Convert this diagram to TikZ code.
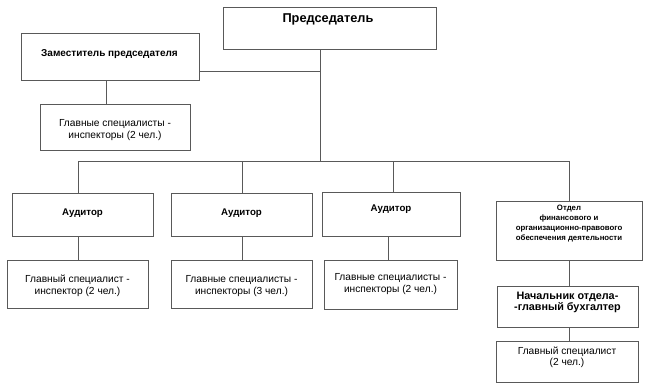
\documentclass[tikz,border=0pt]{standalone}
\usepackage{fontspec}
\setmainfont{Liberation Sans}
\begin{document}
\begin{tikzpicture}[x=1pt,y=-1pt,
  box/.style={draw=black!65, line width=0.9pt, rectangle, inner sep=0pt},
  conn/.style={draw=black!65, line width=0.9pt},
  txt/.style={align=center, inner sep=0pt, font=\fontsize{10.2}{11.5}\selectfont},
  btxt/.style={align=center, inner sep=0pt, font=\fontsize{9.7}{12}\selectfont\bfseries}]
\useasboundingbox (0,0) rectangle (650,388);
% boxes
\node[box, minimum width=213pt, minimum height=42pt] (pred) at (329.5,28) {};
\node[btxt, font=\fontsize{12.8}{14}\selectfont\bfseries] (predt) at (328,19) {Председатель};
\node[box, minimum width=178pt, minimum height=47pt] (zam) at (110,56.5) {};
\node[btxt, font=\fontsize{10}{12}\selectfont\bfseries] (zamt) at (109.5,54) {Заместитель председателя};
\node[box, minimum width=150pt, minimum height=46pt] (gs0) at (115,127) {};
\node[txt] (gs0t) at (115,130) {Главные специалисты -\\инспекторы (2 чел.)};
\node[box, minimum width=141pt, minimum height=43pt] (aud1) at (82.5,214.5) {};
\node[btxt] (aud1t) at (82.5,213) {Аудитор};
\node[box, minimum width=141pt, minimum height=48pt] (sub1) at (77.5,284) {};
\node[txt] (sub1t) at (77.5,286) {Главный специалист -\\инспектор (2 чел.)};
\node[box, minimum width=141pt, minimum height=43pt] (aud2) at (241.5,214.5) {};
\node[btxt] (aud2t) at (241.5,213) {Аудитор};
\node[box, minimum width=141pt, minimum height=48pt] (sub2) at (241.5,284) {};
\node[txt] (sub2t) at (241.5,286) {Главные специалисты -\\инспекторы (3 чел.)};
\node[box, minimum width=138pt, minimum height=44pt] (aud3) at (391,214) {};
\node[btxt] (aud3t) at (391,209) {Аудитор};
\node[box, minimum width=133pt, minimum height=49pt] (sub3) at (390.5,284.5) {};
\node[txt] (sub3t) at (390.5,284) {Главные специалисты -\\инспекторы (2 чел.)};
\node[box, minimum width=146pt, minimum height=59pt] (otd) at (569,230.5) {};
\node[align=center, inner sep=0pt, font=\fontsize{7.8}{9.9}\selectfont\bfseries] (otdt) at (569,223.5) {Отдел\\финансового и\\организационно-правового\\обеспечения деятельности};
\node[box, minimum width=141pt, minimum height=41pt] (nach) at (567.5,306.5) {};
\node[btxt, font=\fontsize{10.8}{10}\selectfont\bfseries] (nacht) at (567.5,302.5) {Начальник отдела-\\-главный бухгалтер};
\node[box, minimum width=142pt, minimum height=41pt] (gs4) at (567,361.5) {};
\node[txt] (gs4t) at (567,357.5) {Главный специалист\\(2 чел.)};
% bus coordinates
\coordinate (b0) at (320,161);
\coordinate (bz) at (320,71);
\coordinate (b1) at (78,161);
\coordinate (b2) at (242,161);
\coordinate (b3) at (393,161);
\coordinate (b4) at (569,161);
\coordinate (z0) at (106.7,80);
\coordinate (a1) at (78,236);
\coordinate (a2) at (242,236);
\coordinate (a3) at (388,236);
% connectors
\draw[conn] (pred.south -| b0) -- (b0);
\draw[conn] (zam.east |- bz) -- (bz);
\draw[conn] (b1) -- (b4);
\draw[conn] (b1) -- (b1 |- aud1.north);
\draw[conn] (b2) -- (b2 |- aud2.north);
\draw[conn] (b3) -- (b3 |- aud3.north);
\draw[conn] (b4) -- (b4 |- otd.north);
\draw[conn] (z0 |- zam.south) -- (z0 |- gs0.north);
\draw[conn] (a1 |- aud1.south) -- (a1 |- sub1.north);
\draw[conn] (a2 |- aud2.south) -- (a2 |- sub2.north);
\draw[conn] (a3 |- aud3.south) -- (a3 |- sub3.north);
\draw[conn] (b4 |- otd.south) -- (b4 |- nach.north);
\draw[conn] (b4 |- nach.south) -- (b4 |- gs4.north);
\end{tikzpicture}
\end{document}
